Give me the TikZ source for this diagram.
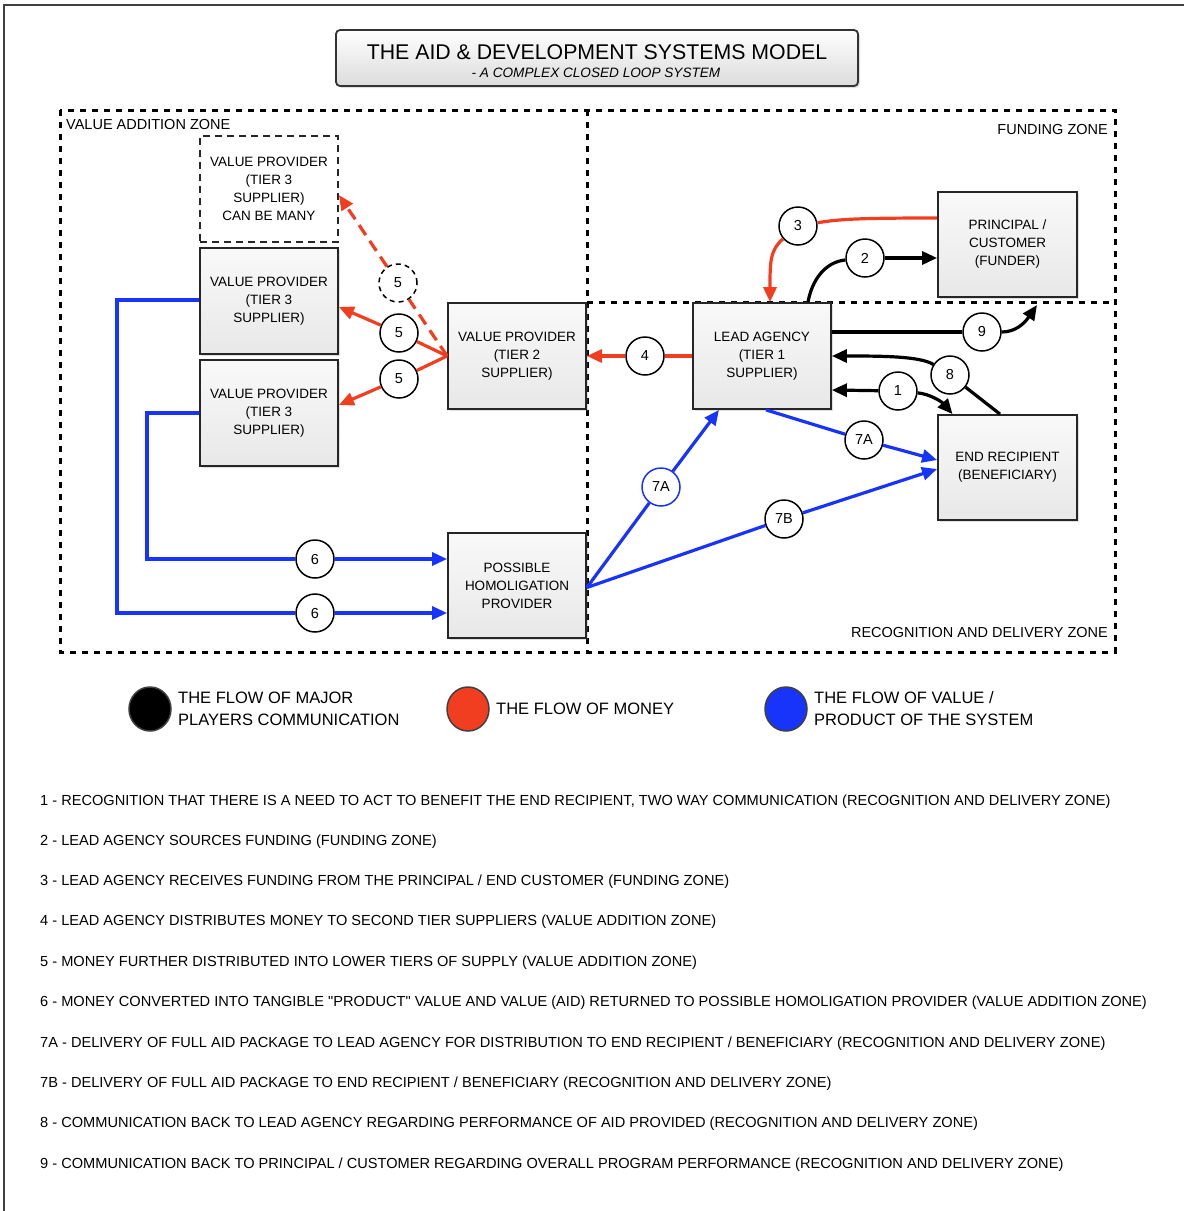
\documentclass[tikz,border=0pt]{standalone}
\usepackage{fontspec}
\setmainfont{Liberation Sans}
\newfontfamily\rawfont{Liberation Sans}
\usetikzlibrary{arrows.meta,shadows,calc,shapes.geometric}
\definecolor{myred}{RGB}{242,62,32}
\definecolor{myblue}{RGB}{24,52,250}
\begin{document}
\begin{tikzpicture}[x=1pt,y=-1pt,
  box/.style={draw=black!85, line width=1.8pt, minimum width=138pt, minimum height=106pt, inner sep=0pt, align=center, font=\fontsize{13.5}{18}\selectfont, top color=gray!5, bottom color=gray!18, drop shadow={opacity=0.25,shadow xshift=2pt,shadow yshift=-2pt}},
  dbox/.style={draw=black!85, line width=1.8pt, dash pattern=on 7pt off 5pt, minimum width=138pt, minimum height=106pt, inner sep=0pt, align=center, font=\fontsize{13.5}{18}\selectfont, fill=white},
  num/.style={circle, draw=black, line width=1.5pt, fill=white, minimum size=38pt, inner sep=0pt, font=\fontsize{14.5}{14}\selectfont},
  zone/.style={line width=3pt, dash pattern=on 6pt off 6pt},
  tip/.style={-{Triangle[length=15pt,width=13pt]}},
  money/.style={draw=myred, line width=3.2pt},
  value/.style={draw=myblue, line width=3.2pt},
  comm/.style={draw=black, line width=3.2pt},
  lab/.style={font=\fontsize{14.5}{16}\selectfont, inner sep=0pt},
  leg/.style={ellipse, draw=black!75, line width=1.5pt, minimum width=42pt, minimum height=44pt, inner sep=0pt},
  legtxt/.style={font=\fontsize{16.5}{22}\selectfont, inner sep=0pt, align=left, anchor=west},
  item/.style={font=\fontsize{14.6}{16}\selectfont, inner sep=0pt, anchor=base west}
]
\useasboundingbox (0,0) rectangle (1184,1211);
% frame
\draw[line width=2pt, black!75] (4,1211) -- (4,5) -- (1184,5);

% title
\node[draw=black!80, line width=1.8pt, rounded corners=4pt, minimum width=522pt, minimum height=56pt, top color=white, bottom color=gray!28, drop shadow={opacity=0.25,shadow xshift=2pt,shadow yshift=-2pt}] (titlebox) at (597,58) {};
\node[font=\fontsize{21.3}{22}\selectfont, inner sep=0pt] (title) at (597,52) {THE AID \& DEVELOPMENT SYSTEMS MODEL};
\node[font=\fontsize{13.6}{14}\selectfont\itshape, inner sep=0pt] (subtitle) at (596,73) {- A COMPLEX CLOSED LOOP SYSTEM};

% zones
\draw[zone] (60,110) rectangle (1115,652);
\draw[zone] (587,110) -- (587,652);
\draw[zone] (587,302) -- (1115,302);
\node[lab, anchor=west] (zva) at (66,125) {VALUE ADDITION ZONE};
\node[lab, anchor=east] (zfu) at (1108,130) {FUNDING ZONE};
\node[lab, anchor=east] (zrd) at (1108,632) {RECOGNITION AND DELIVERY ZONE};

% boxes
\node[dbox] (t3d) at (269,189) {VALUE PROVIDER\\(TIER 3\\SUPPLIER)\\CAN BE MANY};
\node[box] (t3a) at (269,301) {VALUE PROVIDER\\(TIER 3\\SUPPLIER)};
\node[box] (t3b) at (269,413) {VALUE PROVIDER\\(TIER 3\\SUPPLIER)};
\node[box] (t2) at (517,356) {VALUE PROVIDER\\(TIER 2\\SUPPLIER)};
\node[box] (lead) at (762,356) {LEAD AGENCY\\(TIER 1\\SUPPLIER)};
\node[box, minimum width=139pt, minimum height=105pt] (princ) at (1007.5,244.5) {PRINCIPAL /\\CUSTOMER\\(FUNDER)};
\node[box, minimum width=139pt, minimum height=105pt] (endr) at (1007.5,467.5) {END RECIPIENT\\(BENEFICIARY)};
\node[box, minimum height=105pt] (homo) at (517,585.5) {POSSIBLE\\HOMOLIGATION\\PROVIDER};

% number circles
\node[num, dash pattern=on 5pt off 4pt] (c5d) at (398,283) {5};
\node[num] (c5b) at (399,333) {5};
\node[num] (c5c) at (399,379) {5};
\node[num] (c4) at (645,356) {4};
\node[num] (c3) at (798,226) {3};
\node[num] (c2) at (865,258) {2};
\node[num] (c9) at (982,332) {9};
\node[num] (c8) at (950,375) {8};
\node[num] (c1) at (898,391) {1};
\node[num] (c7a) at (864,440) {7A};
\node[num, draw=myblue] (c7al) at (661,487) {7A};
\node[num] (c7b) at (784,519) {7B};
\node[num] (c6a) at (315,559) {6};
\node[num] (c6b) at (315,613) {6};
\coordinate (e9) at (1037,305);

% money
\draw[money, dash pattern=on 12pt off 7pt, tip] (t2.west) -- (c5d) -- ([yshift=-6pt]t3d.east);
\draw[money, tip] (t2.west) -- (c5b) -- ([yshift=-6pt]t3a.east);
\draw[money, tip] (t2.west) -- (c5c) -- ([yshift=8pt]t3b.east);
\draw[money, tip] (lead.west) -- (c4) -- (t2.east);
\draw[money] ([yshift=26.5pt]princ.west) .. controls (860,218) and (840,219) .. (c3);
\draw[money, tip] (c3) .. controls (770,250) and (770,262) .. ([xshift=8pt]lead.north);

% communication
\draw[comm] ([xshift=46pt]lead.north) .. controls (812,280) and (825,262) .. (c2);
\draw[comm, tip] (c2) -- ([yshift=-13.5pt]princ.west);
\draw[comm] ([yshift=24pt]lead.east) -- (c9);
\draw[comm, tip] (c9) .. controls (1015,332) and (1024,324) .. (e9);
\draw[comm] ([xshift=-7.5pt]endr.north) -- (c8);
\draw[comm, tip] (c8) .. controls (920,356) and (880,356) .. (lead.east);
\draw[comm, tip] (c1) -- ([yshift=-34pt]lead.east);
\draw[comm, tip] (c1) .. controls (930,394) and (942,402) .. ([xshift=-55pt]endr.north);

% value
\draw[value, tip] ([xshift=4pt]lead.south) -- (c7a) -- ([yshift=7.5pt]endr.west);
\draw[value, tip] ([yshift=-2pt]homo.east) -- (c7al) -- ([xshift=-43pt]lead.south);
\draw[value, tip] ([yshift=-2pt]homo.east) -- (c7b) -- ([yshift=-1.5pt]endr.west);
\draw[value, tip] (t3b.west) -- (147,413) -- (147,559) -- (c6a) -- ([yshift=26.5pt]homo.west);
\draw[value, tip] ([yshift=1pt]t3a.west) -- (117,300) -- (117,613) -- (c6b) -- ([yshift=-27.5pt]homo.west);

% legend
\node[leg, fill=black] (lgk) at (150,709) {};
\node[leg, fill=myred] (lgr) at (468,709) {};
\node[leg, fill=myblue] (lgb) at (786,709) {};
\node[legtxt] (lgkt) at (178,709) {THE FLOW OF MAJOR\\PLAYERS COMMUNICATION};
\node[legtxt] (lgrt) at (496,709) {THE FLOW OF MONEY};
\node[legtxt] (lgbt) at (814,709) {THE FLOW OF VALUE /\\PRODUCT OF THE SYSTEM};

% list
\node[item] (i1) at (40,805) {1 - RECOGNITION THAT THERE IS A NEED TO ACT TO BENEFIT THE END RECIPIENT, TWO WAY COMMUNICATION (RECOGNITION AND DELIVERY ZONE)};
\node[item] (i2) at (40,845) {2 - LEAD AGENCY SOURCES FUNDING (FUNDING ZONE)};
\node[item] (i3) at (40,885) {3 - LEAD AGENCY RECEIVES FUNDING FROM THE PRINCIPAL / END CUSTOMER (FUNDING ZONE)};
\node[item] (i4) at (40,925) {4 - LEAD AGENCY DISTRIBUTES MONEY TO SECOND TIER SUPPLIERS (VALUE ADDITION ZONE)};
\node[item] (i5) at (40,966) {5 - MONEY FURTHER DISTRIBUTED INTO LOWER TIERS OF SUPPLY (VALUE ADDITION ZONE)};
\node[item] (i6) at (40,1006) {6 - MONEY CONVERTED INTO TANGIBLE {\rawfont "PRODUCT"} VALUE AND VALUE (AID) RETURNED TO POSSIBLE HOMOLIGATION PROVIDER (VALUE ADDITION ZONE)};
\node[item] (i7a) at (40,1047) {7A - DELIVERY OF FULL AID PACKAGE TO LEAD AGENCY FOR DISTRIBUTION TO END RECIPIENT / BENEFICIARY (RECOGNITION AND DELIVERY ZONE)};
\node[item] (i7b) at (40,1087) {7B - DELIVERY OF FULL AID PACKAGE TO END RECIPIENT / BENEFICIARY (RECOGNITION AND DELIVERY ZONE)};
\node[item] (i8) at (40,1127) {8 - COMMUNICATION BACK TO LEAD AGENCY REGARDING PERFORMANCE OF AID PROVIDED (RECOGNITION AND DELIVERY ZONE)};
\node[item] (i9) at (40,1168) {9 - COMMUNICATION BACK TO PRINCIPAL / CUSTOMER REGARDING OVERALL PROGRAM PERFORMANCE (RECOGNITION AND DELIVERY ZONE)};
\end{tikzpicture}
\end{document}
